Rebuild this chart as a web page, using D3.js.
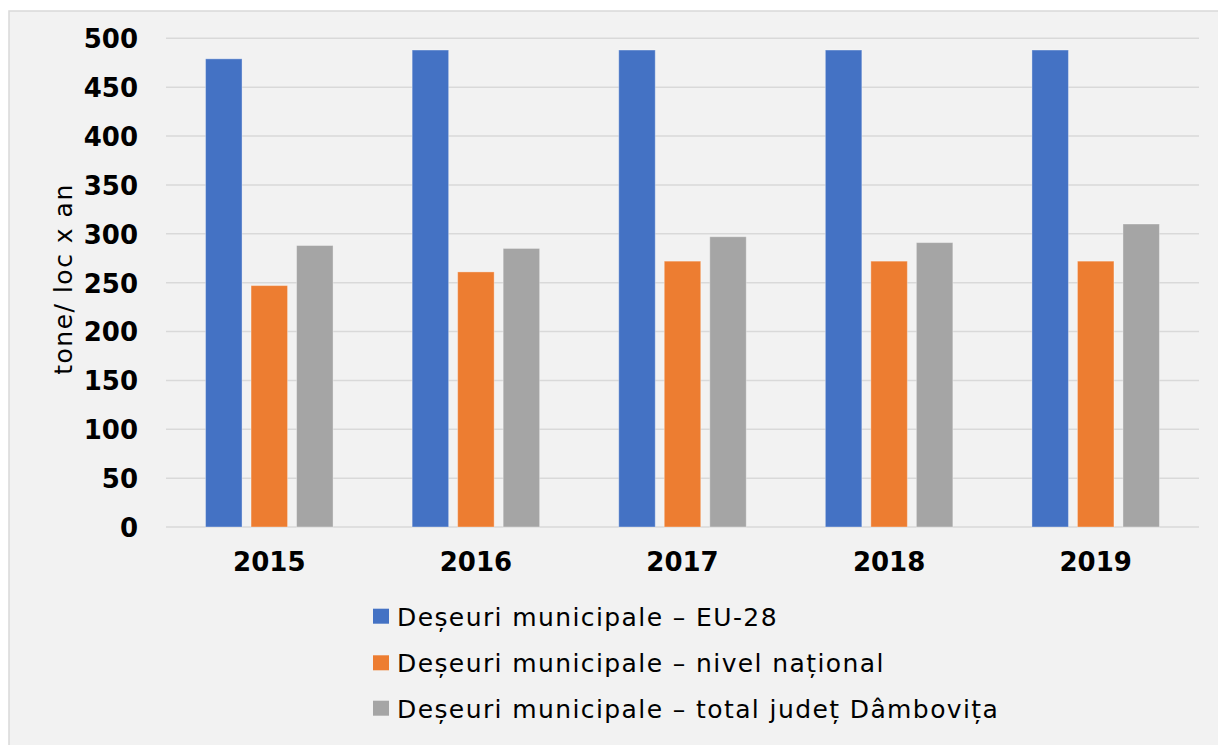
<!DOCTYPE html>
<html>
<head>
<meta charset="utf-8">
<script src="https://cdn.jsdelivr.net/npm/d3@7"></script>
<style>
  body { margin: 0; background: #fff; }
  svg { display: block; }
</style>
</head>
<body>
<div id="chart"></div>
<script>
// data
var years = ["2015", "2016", "2017", "2018", "2019"];
var seriesNames = [
  "Deșeuri municipale – EU-28",
  "Deșeuri municipale – nivel național",
  "Deșeuri municipale – total județ Dâmbovița"
];
var eu28 = [479, 488, 488, 488, 488];
var national = [247, 261, 272, 272, 272];
var dambovita = [288, 285, 297, 291, 310];
var colors = ["#4472c4", "#ed7d31", "#a5a5a5"];
var yTicks = [0, 50, 100, 150, 200, 250, 300, 350, 400, 450, 500];

var values = [eu28, national, dambovita];
var rows = years.map(function(y, i) {
  return { year: y, vals: values.map(function(v, k) { return { key: k, value: v[i] }; }) };
});

var width = 1218, height = 745;
var svg = d3.select("#chart").append("svg")
  .attr("width", width)
  .attr("height", height);

// panel background and border
svg.append("rect")
  .attr("x", 9).attr("y", 11)
  .attr("width", 1220).attr("height", 745)
  .attr("fill", "#f2f2f2")
  .attr("stroke", "#d9d9d9")
  .attr("stroke-width", 1.5);

var x0 = d3.scaleBand().domain(years).range([166, 1199]);
var x1 = d3.scaleBand().domain([0, 1, 2])
  .range([0, x0.bandwidth()])
  .paddingInner(0.198)
  .paddingOuter(0.869);
var y = d3.scaleLinear().domain([0, 500]).range([527, 38.3]);

// gridlines
svg.append("g").selectAll("line")
  .data(yTicks)
  .enter()
    .append("line")
    .attr("x1", 166)
    .attr("x2", 1199)
    .attr("y1", function(d) { return y(d); })
    .attr("y2", function(d) { return y(d); })
    .attr("stroke", "#d9d9d9")
    .attr("stroke-width", 1.5);

// y axis labels
var yAxis = d3.axisLeft(y).tickValues(yTicks).tickSize(0).tickPadding(0);
var yg = svg.append("g").attr("transform", "translate(138,0)").call(yAxis);
yg.select(".domain").remove();
yg.selectAll("text")
  .attr("font-family", "DejaVu Sans")
  .attr("font-weight", "bold")
  .attr("font-size", "26px")
  .attr("fill", "#000")
  .attr("dy", "0.36em");

// x axis labels
var xAxis = d3.axisBottom(x0).tickSize(0).tickPadding(0);
var xg = svg.append("g").attr("transform", "translate(0,527)").call(xAxis);
xg.select(".domain").remove();
xg.selectAll("text")
  .attr("font-family", "DejaVu Sans")
  .attr("font-weight", "bold")
  .attr("font-size", "26px")
  .attr("fill", "#000")
  .attr("dy", null)
  .attr("y", 44);

// bars
var groups = svg.append("g").selectAll("g")
  .data(rows)
  .enter()
    .append("g")
    .attr("transform", function(d) { return "translate(" + x0(d.year) + ",0)"; });

groups.selectAll("rect")
  .data(function(d) { return d.vals; })
  .enter()
    .append("rect")
    .attr("x", function(d) { return x1(d.key); })
    .attr("y", function(d) { return y(d.value); })
    .attr("width", x1.bandwidth())
    .attr("height", function(d) { return y(0) - y(d.value); })
    .attr("fill", function(d) { return colors[d.key]; })
    .attr("stroke", "rgba(255,255,255,0.35)")
    .attr("stroke-width", 1);

// y axis title
svg.append("text")
  .attr("transform", "translate(72,279) rotate(-90)")
  .attr("text-anchor", "middle")
  .attr("font-family", "DejaVu Sans")
  .attr("font-size", "25px")
  .attr("letter-spacing", "1.5px")
  .attr("fill", "#000")
  .text("tone/ loc x an");

// legend
var legendY = [625.7, 672.3, 717.7];
var legend = svg.append("g").selectAll("g")
  .data(seriesNames)
  .enter()
    .append("g")
    .attr("transform", function(d, i) { return "translate(373," + legendY[i] + ")"; });

legend.append("rect")
  .attr("x", 0)
  .attr("y", -17)
  .attr("width", 16)
  .attr("height", 15)
  .attr("fill", function(d, i) { return colors[i]; });

legend.append("text")
  .attr("x", 24)
  .attr("y", 0)
  .attr("font-family", "DejaVu Sans")
  .attr("font-size", "25px")
  .attr("letter-spacing", "1.4px")
  .attr("fill", "#000")
  .text(function(d) { return d; });
</script>
</body>
</html>
